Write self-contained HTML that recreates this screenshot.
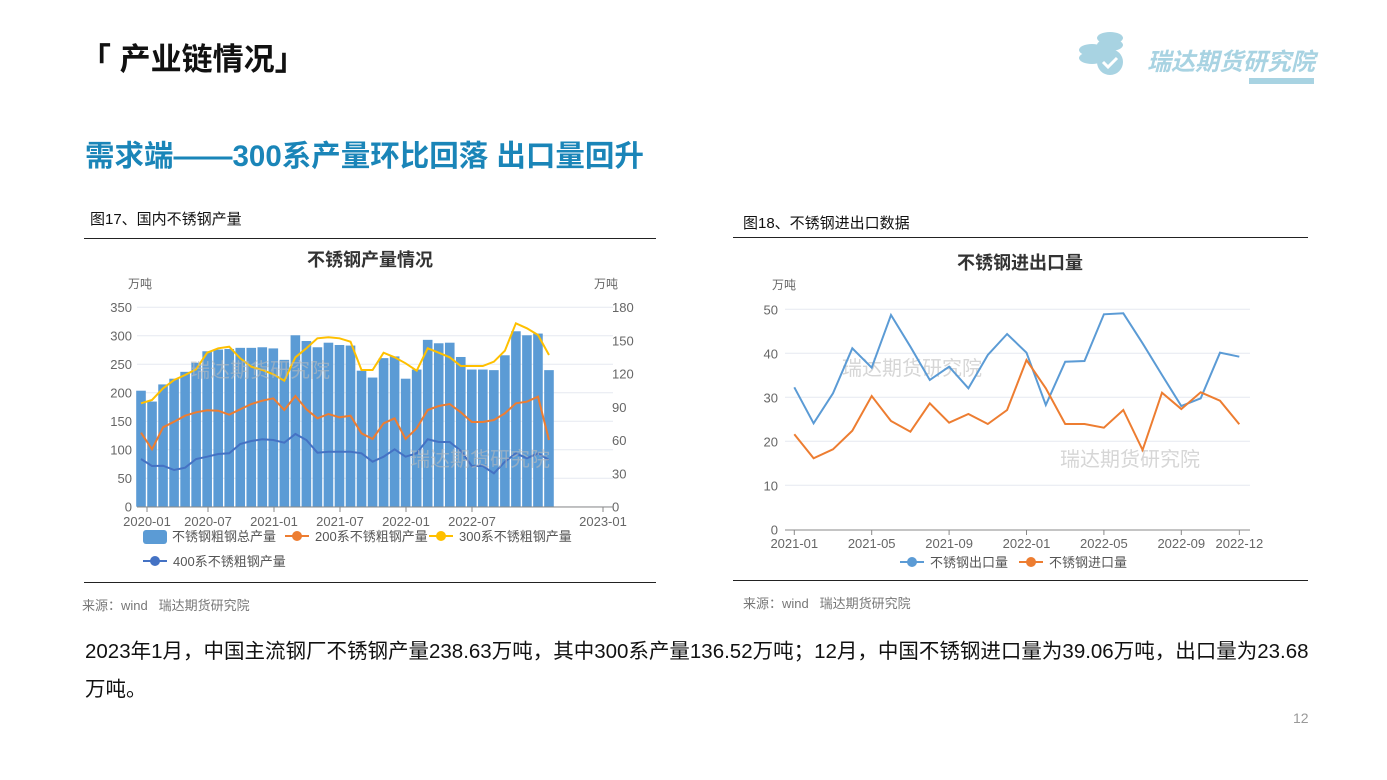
<!DOCTYPE html>
<html><head><meta charset="utf-8"><style>
body{margin:0;width:1387px;height:780px;background:#fff;position:relative;overflow:hidden;font-family:"Liberation Sans","Noto Sans CJK SC",sans-serif}
.a{position:absolute;white-space:nowrap}
</style></head><body>
<div class="a" style="left:80px;top:34px;font-size:31px;font-weight:bold;color:#111">「 产业链情况」</div>
<div class="a" style="left:1078px;top:28px;width:48px;height:50px">
<svg width="48" height="50"><ellipse cx="32" cy="10" rx="13" ry="6" fill="#a8d3e2"/><ellipse cx="32" cy="17" rx="13" ry="6" fill="#a8d3e2"/><ellipse cx="14" cy="22" rx="13" ry="6" fill="#a8d3e2"/><ellipse cx="14" cy="30" rx="13" ry="6" fill="#a8d3e2"/><circle cx="32" cy="34" r="13" fill="#a8d3e2"/><path d="M25 34l5 5 9-9" stroke="#fff" stroke-width="3" fill="none"/></svg></div>
<div class="a" style="left:1147px;top:42px;font-size:24px;font-weight:bold;font-style:italic;color:#a8d3e2">瑞达期货研究院</div>
<div class="a" style="left:1249px;top:78px;width:65px;height:6px;background:#a8d3e2"></div>
<div class="a" style="left:85px;top:133px;font-size:29.5px;font-weight:bold;color:#1a85b8">需求端——300系产量环比回落 出口量回升</div>
<div class="a" style="left:90px;top:208px;font-size:15px;color:#111">图17、国内不锈钢产量</div>
<div class="a" style="left:743px;top:212px;font-size:15px;color:#111">图18、不锈钢进出口数据</div>
<div class="a" style="left:84px;top:238px;width:572px;height:1px;background:#222"></div>
<div class="a" style="left:84px;top:582px;width:572px;height:1px;background:#222"></div>
<div class="a" style="left:733px;top:237px;width:575px;height:1px;background:#222"></div>
<div class="a" style="left:733px;top:580px;width:575px;height:1px;background:#222"></div>
<div class="a" style="left:82px;top:595px;font-size:13px;color:#777">来源：wind&nbsp;&nbsp;&nbsp;瑞达期货研究院</div>
<div class="a" style="left:743px;top:593px;font-size:13px;color:#777">来源：wind&nbsp;&nbsp;&nbsp;瑞达期货研究院</div>
<div class="a" style="left:85px;top:633px;font-size:20.5px;color:#111;line-height:38px;width:1228px;white-space:normal">2023年1月，中国主流钢厂不锈钢产量238.63万吨，其中300系产量136.52万吨；12月，中国不锈钢进口量为39.06万吨，出口量为23.68<br>万吨。</div>
<div class="a" style="left:1293px;top:710px;font-size:14px;color:#999">12</div>
<svg id="s" class="a" style="left:0;top:0" width="1387" height="780" font-family="Liberation Sans, Noto Sans CJK SC, sans-serif"></svg>
<script>
var s='';
function T(x,y,t,o){s+='<text x="'+x+'" y="'+y+'" '+(o||'')+'>'+t+'</text>';}
T(370,266,'不锈钢产量情况','text-anchor="middle" font-size="18" font-weight="bold" fill="#333"');
T(128,288,'万吨','font-size="12" fill="#666"');T(594,288,'万吨','font-size="12" fill="#666"');
for(var i=0;i<=7;i++){var y=506.7-i*28.5;s+='<line x1="137" x2="613" y1="'+y+'" y2="'+y+'" stroke="#e6e9f0"/>';T(132,y+5,i*50,'text-anchor="end" font-size="13" fill="#666"');}
for(i=0;i<=6;i++){y=506.7-i*33.25;T(612,y+5,i*30,'font-size="13" fill="#666"');}
var tot=[203,184,214,224,236,252,272,275,276,278,278,279,277,257,300,290,279,287,283,282,238,226,260,263,224,240,292,286,287,262,240,240,239,265,307,300,303,239];
function bx(i){return 80+(183+i*33.08)/3;}
tot.forEach(function(v,i){var h=v/350*200;s+='<rect x="'+(bx(i)-4.8)+'" y="'+(506.7-h)+'" width="9.6" height="'+h+'" fill="#5b9bd5"/>';});
function L(a,c,f){var p=a.map(function(z,i){return f(i).toFixed(1)+','+(z/3+280).toFixed(1)}).join(' ');s+='<polyline points="'+p+'" fill="none" stroke="'+c+'" stroke-width="2"/>';}
L([458,508,442,425,407,397,391,392,404,388,372,362,355,390,348,388,415,402,412,407,460,477,430,415,477,445,390,378,372,397,426,426,420,400,370,365,350,480],'#ed7d31',bx);
L([370,360,325,300,285,268,218,205,200,235,260,270,283,302,232,205,175,172,175,185,270,270,218,232,250,272,205,218,232,258,258,258,245,212,130,145,165,225],'#ffc000',bx);
L([537,558,557,570,563,537,530,522,520,492,483,478,480,488,462,480,518,515,515,515,520,545,530,508,530,520,478,486,486,512,558,558,580,545,520,535,520,540],'#4472c4',bx);
s+='<line x1="137" x2="613" y1="507" y2="507" stroke="#888"/>';
[['2020-01',147],['2020-07',208],['2021-01',274],['2021-07',340],['2022-01',406],['2022-07',472],['2023-01',603]].forEach(function(t){s+='<line x1="'+t[1]+'" x2="'+t[1]+'" y1="507" y2="512" stroke="#888"/>';T(t[1],526,t[0],'text-anchor="middle" font-size="13" fill="#666"');});
T(260,377,'瑞达期货研究院','text-anchor="middle" font-size="20" fill="#bbb" opacity="0.6"');
T(480,466,'瑞达期货研究院','text-anchor="middle" font-size="20" fill="#bbb" opacity="0.6"');
s+='<rect x="143" y="530" width="24" height="14" rx="3" fill="#5b9bd5"/>';T(172,541,'不锈钢粗钢总产量','font-size="13" fill="#555"');
function LG(x,y,c,t){s+='<line x1="'+x+'" x2="'+(x+24)+'" y1="'+y+'" y2="'+y+'" stroke="'+c+'" stroke-width="2"/><circle cx="'+(x+12)+'" cy="'+y+'" r="5" fill="'+c+'"/>';T(x+30,y+5,t,'font-size="13" fill="#555"');}
LG(285,536,'#ed7d31','200系不锈粗钢产量');LG(429,536,'#ffc000','300系不锈粗钢产量');LG(143,561,'#4472c4','400系不锈粗钢产量');
T(1020,269,'不锈钢进出口量','text-anchor="middle" font-size="18" font-weight="bold" fill="#333"');
T(772,289,'万吨','font-size="12" fill="#666"');
for(i=0;i<=5;i++){y=529.3-i*44;if(i>0)s+='<line x1="785" x2="1250" y1="'+y+'" y2="'+y+'" stroke="#e6e9f0"/>';T(778,y+5,i*10,'text-anchor="end" font-size="13" fill="#666"');}
function cx(i){return 794.3+i*19.35;}
T(912,375,'瑞达期货研究院','text-anchor="middle" font-size="20" fill="#bbb" opacity="0.6"');
T(1130,466,'瑞达期货研究院','text-anchor="middle" font-size="20" fill="#bbb" opacity="0.6"');
L([322,430,340,205,263,105,200,300,260,325,225,162,218,375,245,243,103,100,190,285,378,355,218,230],'#5b9bd5',cx);
L([463,535,508,452,348,423,455,370,428,402,432,390,240,325,432,432,443,390,510,338,387,337,362,433],'#ed7d31',cx);
s+='<line x1="785" x2="1250" y1="530" y2="530" stroke="#888"/>';
[['2021-01',0],['2021-05',4],['2021-09',8],['2022-01',12],['2022-05',16],['2022-09',20],['2022-12',23]].forEach(function(t){var x=cx(t[1]);s+='<line x1="'+x+'" x2="'+x+'" y1="530" y2="535" stroke="#888"/>';T(x,548,t[0],'text-anchor="middle" font-size="13" fill="#666"');});
LG(900,562,'#5b9bd5','不锈钢出口量');LG(1019,562,'#ed7d31','不锈钢进口量');
document.getElementById('s').innerHTML=s;
</script>
</body></html>
